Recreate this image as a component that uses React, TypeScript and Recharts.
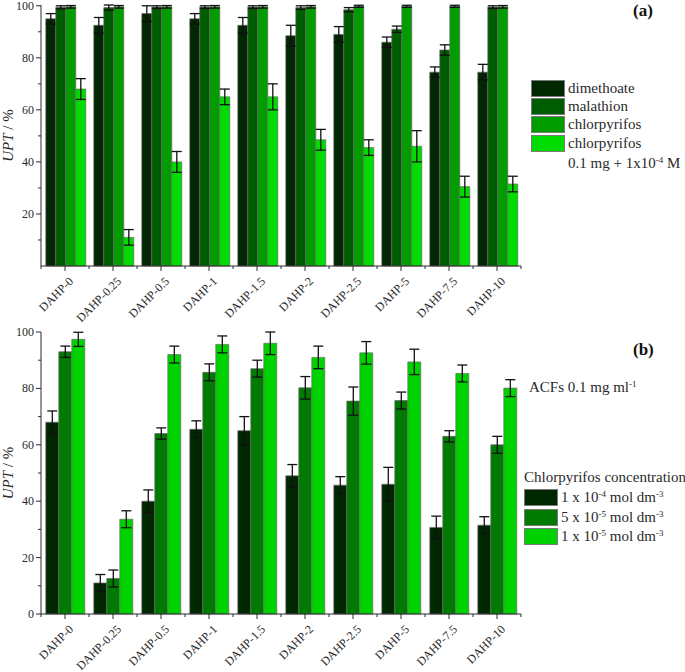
import React from "react";
import { BarChart, Bar, XAxis, YAxis, ErrorBar, Legend } from "recharts";

const categories = [
  "DAHP-0",
  "DAHP-0.25",
  "DAHP-0.5",
  "DAHP-1",
  "DAHP-1.5",
  "DAHP-2",
  "DAHP-2.5",
  "DAHP-5",
  "DAHP-7.5",
  "DAHP-10",
];

// (a) single pesticides and chlorpyrifos with ACFs
const dimethoate = [95, 92.5, 97, 95, 92.5, 88.5, 89, 86, 74.5, 74.5];
const dimethoateErr = [2, 3, 3, 2, 3, 4, 3, 2, 2, 3];
const malathion = [99.4, 99.3, 99.5, 99.5, 99.5, 99.3, 98.5, 91, 83, 99.5];
const malathionErr = [0.6, 1, 0.5, 0.5, 0.5, 0.7, 0.8, 1.2, 2, 0.5];
const chlorpyrifos = [99.6, 99.6, 99.6, 99.6, 99.6, 99.6, 99.8, 99.8, 99.8, 99.6];
const chlorpyrifosErr = [0.5, 0.5, 0.5, 0.5, 0.5, 0.5, 0.4, 0.4, 0.4, 0.5];
const chlorpyrifosAcf = [68, 11, 40, 65, 65, 48.5, 45.5, 46, 30.5, 31.5];
const chlorpyrifosAcfErr = [4, 3, 4, 3, 5, 4, 3, 6, 4, 3];

// (b) chlorpyrifos concentration series
const conc1e4 = [68, 11, 40, 65.5, 65, 49, 45.7, 46, 30.7, 31.5];
const conc1e4Err = [4, 3, 4, 3, 5, 4, 3, 6, 4, 3];
const conc5e5 = [93, 12.6, 64, 85.7, 87, 80.2, 75.5, 75.7, 63, 60];
const conc5e5Err = [2, 3, 2, 3, 3, 4, 5, 3, 2, 3];
const conc1e5 = [97.4, 33.6, 92, 95.6, 96, 91, 92.6, 89.4, 85.3, 80.1];
const conc1e5Err = [2.5, 3, 3, 3, 4, 4, 4, 4.5, 3, 3];

const topTicks = [10, 20, 30, 40, 50, 60, 70, 80, 90, 100];
const bottomTicks = [0, 10, 20, 30, 40, 50, 60, 70, 80, 90, 100];

const topColors = ["#002800", "#005c00", "#009c00", "#00dc00"];
const bottomColors = ["#002800", "#007a00", "#00d200"];

const FONT = "'Liberation Serif', 'Times New Roman', serif";
const INK = "#2a2a2a";

const topData = categories.map((name, i) => ({
  name,
  dimethoate: dimethoate[i],
  dimethoateErr: dimethoateErr[i],
  malathion: malathion[i],
  malathionErr: malathionErr[i],
  chlorpyrifos: chlorpyrifos[i],
  chlorpyrifosErr: chlorpyrifosErr[i],
  chlorpyrifosAcf: chlorpyrifosAcf[i],
  chlorpyrifosAcfErr: chlorpyrifosAcfErr[i],
}));

const bottomData = categories.map((name, i) => ({
  name,
  c1: conc1e4[i],
  c1Err: conc1e4Err[i],
  c2: conc5e5[i],
  c2Err: conc5e5Err[i],
  c3: conc1e5[i],
  c3Err: conc1e5Err[i],
}));

const XTick = (props: any) => {
  const { x, y, payload, index } = props;
  const half = 24;
  return (
    <g transform={`translate(${x},${y})`}>
      <line x1={0} y1={0} x2={0} y2={5} stroke={INK} />
      <line x1={-half} y1={0} x2={-half} y2={3} stroke={INK} />
      {index === categories.length - 1 && (
        <line x1={half} y1={0} x2={half} y2={3} stroke={INK} />
      )}
      <text
        transform="translate(9,16) rotate(-45)"
        textAnchor="end"
        fontSize={12}
        fontFamily={FONT}
        fill={INK}
      >
        {payload.value}
      </text>
    </g>
  );
};

const YTick = (props: any) => {
  const { x, y, payload } = props;
  const major = payload.value % 20 === 0;
  return (
    <g transform={`translate(${x},${y})`}>
      <line x1={0} y1={0} x2={major ? -5 : -3} y2={0} stroke={INK} />
      {major && (
        <text
          x={-7}
          y={4}
          textAnchor="end"
          fontSize={12}
          fontFamily={FONT}
          fill={INK}
        >
          {payload.value}
        </text>
      )}
    </g>
  );
};

const YLabel = (props: any) => {
  const vb = props.viewBox || { x: 0, y: 0, width: 0, height: 0 };
  const cy = vb.y + vb.height / 2;
  return (
    <text
      transform={`translate(13,${cy}) rotate(-90)`}
      textAnchor="middle"
      fontSize={15}
      fontFamily={FONT}
      fill={INK}
    >
      <tspan fontStyle="italic">UPT</tspan>
      <tspan> / %</tspan>
    </text>
  );
};

const swatch = (color: string, w: number, h: number) => (
  <span
    style={{
      display: "inline-block",
      width: w,
      height: h,
      background: color,
      border: "1px solid #7a7a7a",
      boxSizing: "border-box",
      marginRight: 3,
      flexShrink: 0,
    }}
  />
);

const sup = (s: string) => (
  <sup style={{ fontSize: 9, lineHeight: 0, verticalAlign: "5px" }}>{s}</sup>
);

const topLabels = ["dimethoate", "malathion", "chlorpyrifos", "chlorpyrifos"];

const TopLegend = () => (
  <div style={{ fontFamily: FONT, fontSize: 15, color: INK }}>
    {topLabels.map((label, i) => (
      <div key={i} style={{ display: "flex", alignItems: "center", height: 18.3 }}>
        {swatch(topColors[i], 34, 17)}
        <span>{label}</span>
      </div>
    ))}
    <div style={{ paddingLeft: 37, height: 20, lineHeight: "22px", whiteSpace: "nowrap" }}>
      0.1 mg + 1x10{sup("-4")} M
    </div>
  </div>
);

const BottomLegend = () => {
  const labels = [
    <>1 x 10{sup("-4")} mol dm{sup("-3")}</>,
    <>5 x 10{sup("-5")} mol dm{sup("-3")}</>,
    <>1 x 10{sup("-5")} mol dm{sup("-3")}</>,
  ];
  return (
    <div style={{ fontFamily: FONT, fontSize: 15, color: INK }}>
      <div style={{ height: 19, lineHeight: "17px", whiteSpace: "nowrap" }}>
        Chlorpyrifos concentration
      </div>
      {labels.map((label, i) => (
        <div key={i} style={{ display: "flex", alignItems: "center", height: 19.6 }}>
          {swatch(bottomColors[i], 34, 17)}
          <span style={{ whiteSpace: "nowrap" }}>{label}</span>
        </div>
      ))}
    </div>
  );
};

const panelTag = (text: string, top: number) => (
  <div
    style={{
      position: "absolute",
      left: 633,
      top,
      fontFamily: FONT,
      fontWeight: "bold",
      fontSize: 17,
      color: "#111",
    }}
  >
    {text}
  </div>
);

const errStyle = { stroke: "#111", strokeWidth: 1.3, width: 5 };

export default function App() {
  return (
    <div
      style={{
        position: "absolute",
        left: 0,
        top: 0,
        width: 685,
        height: 672,
        background: "#fff",
        overflow: "hidden",
      }}
    >
      <div style={{ position: "absolute", left: 0, top: 0 }}>
        <BarChart
          width={685}
          height={335}
          data={topData}
          margin={{ top: 5, right: 164, left: 0, bottom: 0 }}
          barCategoryGap="10%"
          barGap={0}
        >
          <XAxis
            dataKey="name"
            height={69}
            interval={0}
            tickSize={0}
            tickMargin={0}
            tick={<XTick />}
            axisLine={{ stroke: INK }}
          />
          <YAxis
            width={41}
            domain={[0, 100]}
            ticks={topTicks}
            interval={0}
            tickSize={0}
            tickMargin={0}
            tick={<YTick />}
            axisLine={{ stroke: INK }}
            label={<YLabel />}
          />
          <Legend
            layout="vertical"
            align="center"
            verticalAlign="middle"
            wrapperStyle={{ top: 79, left: 531, width: 150 }}
            content={<TopLegend />}
          />
          <Bar dataKey="dimethoate" name="dimethoate" fill={topColors[0]} stroke="#6a6a6a" strokeWidth={0.7} isAnimationActive={false}>
            <ErrorBar dataKey="dimethoateErr" {...errStyle} />
          </Bar>
          <Bar dataKey="malathion" name="malathion" fill={topColors[1]} stroke="#6a6a6a" strokeWidth={0.7} isAnimationActive={false}>
            <ErrorBar dataKey="malathionErr" {...errStyle} />
          </Bar>
          <Bar dataKey="chlorpyrifos" name="chlorpyrifos" fill={topColors[2]} stroke="#6a6a6a" strokeWidth={0.7} isAnimationActive={false}>
            <ErrorBar dataKey="chlorpyrifosErr" {...errStyle} />
          </Bar>
          <Bar dataKey="chlorpyrifosAcf" name="chlorpyrifos 0.1 mg" fill={topColors[3]} stroke="#6a6a6a" strokeWidth={0.7} isAnimationActive={false}>
            <ErrorBar dataKey="chlorpyrifosAcfErr" {...errStyle} />
          </Bar>
        </BarChart>
        {panelTag("(a)", 1)}
      </div>

      <div style={{ position: "absolute", left: 0, top: 320, width: 685, height: 352 }}>
        <BarChart
          width={685}
          height={352}
          data={bottomData}
          margin={{ top: 12, right: 164, left: 0, bottom: 0 }}
          barCategoryGap="10%"
          barGap={0}
        >
          <XAxis
            dataKey="name"
            height={58}
            interval={0}
            tickSize={0}
            tickMargin={0}
            tick={<XTick />}
            axisLine={{ stroke: INK }}
          />
          <YAxis
            width={41}
            domain={[0, 100]}
            ticks={bottomTicks}
            interval={0}
            tickSize={0}
            tickMargin={0}
            tick={<YTick />}
            axisLine={{ stroke: INK }}
            label={<YLabel />}
          />
          <Legend
            layout="vertical"
            align="center"
            verticalAlign="middle"
            wrapperStyle={{ top: 149, left: 524, width: 161 }}
            content={<BottomLegend />}
          />
          <Bar dataKey="c1" name="1e-4" fill={bottomColors[0]} stroke="#6a6a6a" strokeWidth={0.7} isAnimationActive={false}>
            <ErrorBar dataKey="c1Err" {...errStyle} />
          </Bar>
          <Bar dataKey="c2" name="5e-5" fill={bottomColors[1]} stroke="#6a6a6a" strokeWidth={0.7} isAnimationActive={false}>
            <ErrorBar dataKey="c2Err" {...errStyle} />
          </Bar>
          <Bar dataKey="c3" name="1e-5" fill={bottomColors[2]} stroke="#6a6a6a" strokeWidth={0.7} isAnimationActive={false}>
            <ErrorBar dataKey="c3Err" {...errStyle} />
          </Bar>
        </BarChart>
        {panelTag("(b)", 20)}
        <div
          style={{
            position: "absolute",
            left: 529,
            top: 59,
            fontFamily: FONT,
            fontSize: 15,
            color: INK,
            whiteSpace: "nowrap",
          }}
        >
          ACFs 0.1 mg ml{sup("-1")}
        </div>
      </div>
    </div>
  );
}
